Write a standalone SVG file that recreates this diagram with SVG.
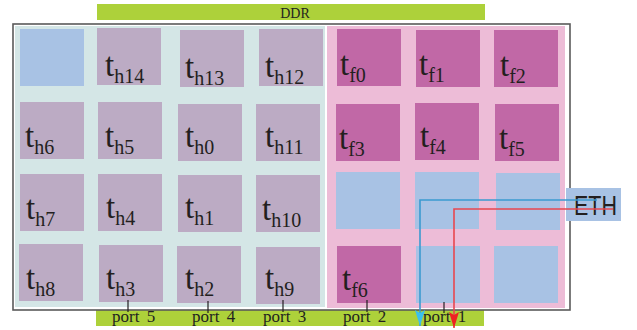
<svg xmlns="http://www.w3.org/2000/svg" width="637" height="330" viewBox="0 0 637 330">
<defs>
<style>
.bar{fill:#add13a}
.frame{fill:#ffffff;stroke:#5a5a5a;stroke-width:1.6}
.teal{fill:#d4e6e6}
.pink{fill:#edbcd7}
.th{fill:#bcabc4}
.tf{fill:#c168a6}
.bl{fill:#a8c2e4}
.lbl{font-family:"Liberation Serif","Times New Roman",serif;font-size:33px;fill:#231f20}
.sub{font-size:20px}
.port{font-family:"Liberation Serif","Times New Roman",serif;font-size:17px;fill:#231f20;word-spacing:3px}
.tick{stroke:#231f20;stroke-width:1.2}
</style>
<marker id="ab" viewBox="0 0 16 10" refX="16" refY="5" markerWidth="16" markerHeight="10" markerUnits="userSpaceOnUse" orient="auto">
<path d="M0,0 L3,5 L0,10 L16,5 Z" fill="#3bbfee"/>
</marker>
<marker id="ar" viewBox="0 0 16 10" refX="16" refY="5" markerWidth="16" markerHeight="10" markerUnits="userSpaceOnUse" orient="auto">
<path d="M0,0 L3,5 L0,10 L16,5 Z" fill="#ee2222"/>
</marker>
</defs>
<g id="ddr">
<rect class="bar" x="97" y="4" width="388" height="16"/>
<text x="295" y="18" text-anchor="middle" font-family="Liberation Serif, Times New Roman, serif" font-size="14" fill="#231f20">DDR</text>
</g>
<g id="ports-bar">
<rect class="bar" x="96" y="310" width="388" height="16"/>
</g>
<g id="chip">
<rect class="frame" x="13" y="24" width="557" height="286"/>
<rect class="teal" x="15" y="26" width="310" height="281"/>
<rect class="pink" x="327" y="26" width="238" height="282"/>
</g>
<g id="tile-blank-h"><rect class="bl" x="20" y="29" width="64" height="57"/></g>
<g id="th14"><rect class="th" x="97" y="28" width="64" height="57"/><text class="lbl" x="105" y="76">t<tspan class="sub" dy="7">h14</tspan></text></g>
<g id="th13"><rect class="th" x="180" y="30" width="64" height="57"/><text class="lbl" x="185" y="78">t<tspan class="sub" dy="7">h13</tspan></text></g>
<g id="th12"><rect class="th" x="259" y="29" width="64" height="57"/><text class="lbl" x="265" y="77">t<tspan class="sub" dy="7">h12</tspan></text></g>
<g id="th6"><rect class="th" x="20" y="102" width="64" height="57"/><text class="lbl" x="25" y="147">t<tspan class="sub" dy="7">h6</tspan></text></g>
<g id="th5"><rect class="th" x="98" y="102" width="64" height="57"/><text class="lbl" x="105" y="147">t<tspan class="sub" dy="7">h5</tspan></text></g>
<g id="th0"><rect class="th" x="178" y="104" width="64" height="57"/><text class="lbl" x="185" y="147">t<tspan class="sub" dy="7">h0</tspan></text></g>
<g id="th11"><rect class="th" x="256" y="104" width="64" height="57"/><text class="lbl" x="265" y="147">t<tspan class="sub" dy="7">h11</tspan></text></g>
<g id="th7"><rect class="th" x="20" y="174" width="64" height="57"/><text class="lbl" x="26" y="219">t<tspan class="sub" dy="7">h7</tspan></text></g>
<g id="th4"><rect class="th" x="98" y="174" width="64" height="57"/><text class="lbl" x="106" y="218">t<tspan class="sub" dy="7">h4</tspan></text></g>
<g id="th1"><rect class="th" x="178" y="175" width="64" height="57"/><text class="lbl" x="185" y="218">t<tspan class="sub" dy="7">h1</tspan></text></g>
<g id="th10"><rect class="th" x="256" y="175" width="64" height="57"/><text class="lbl" x="262" y="220">t<tspan class="sub" dy="7">h10</tspan></text></g>
<g id="th8"><rect class="th" x="19" y="244" width="64" height="57"/><text class="lbl" x="26" y="289">t<tspan class="sub" dy="7">h8</tspan></text></g>
<g id="th3"><rect class="th" x="99" y="245" width="64" height="57"/><text class="lbl" x="106" y="289">t<tspan class="sub" dy="7">h3</tspan></text></g>
<g id="th2"><rect class="th" x="177" y="246" width="64" height="57"/><text class="lbl" x="185" y="289">t<tspan class="sub" dy="7">h2</tspan></text></g>
<g id="th9"><rect class="th" x="256" y="247" width="64" height="57"/><text class="lbl" x="265" y="289">t<tspan class="sub" dy="7">h9</tspan></text></g>
<g id="tf0"><rect class="tf" x="337" y="29" width="64" height="57"/><text class="lbl" x="340" y="75">t<tspan class="sub" dy="7">f0</tspan></text></g>
<g id="tf1"><rect class="tf" x="416" y="30" width="64" height="57"/><text class="lbl" x="419" y="75">t<tspan class="sub" dy="7">f1</tspan></text></g>
<g id="tf2"><rect class="tf" x="494" y="30" width="64" height="57"/><text class="lbl" x="500" y="76">t<tspan class="sub" dy="7">f2</tspan></text></g>
<g id="tf3"><rect class="tf" x="336" y="104" width="64" height="57"/><text class="lbl" x="339" y="149">t<tspan class="sub" dy="7">f3</tspan></text></g>
<g id="tf4"><rect class="tf" x="415" y="103" width="64" height="57"/><text class="lbl" x="420" y="147">t<tspan class="sub" dy="7">f4</tspan></text></g>
<g id="tf5"><rect class="tf" x="495" y="104" width="64" height="57"/><text class="lbl" x="499" y="149">t<tspan class="sub" dy="7">f5</tspan></text></g>
<g id="tile-blank-f1"><rect class="bl" x="336" y="172" width="64" height="57"/></g>
<g id="tile-blank-f2"><rect class="bl" x="415" y="172" width="64" height="57"/></g>
<g id="tile-blank-f3"><rect class="bl" x="496" y="173" width="64" height="57"/></g>
<g id="tf6"><rect class="tf" x="337" y="246" width="64" height="57"/><text class="lbl" x="342" y="290">t<tspan class="sub" dy="7">f6</tspan></text></g>
<g id="tile-blank-f4"><rect class="bl" x="416" y="246" width="64" height="57"/></g>
<g id="tile-blank-f5"><rect class="bl" x="494" y="246" width="64" height="57"/></g>
<g id="eth">
<rect class="bl" x="566" y="188" width="55" height="33"/>
<text x="574" y="215" font-family="Liberation Sans, Arial, sans-serif" font-size="28" fill="#231f20" textLength="43" lengthAdjust="spacingAndGlyphs">ETH</text>
</g>
<g id="port-labels">
<text class="port" x="112" y="322">port 5</text>
<text class="port" x="192" y="322">port 4</text>
<text class="port" x="263" y="322">port 3</text>
<text class="port" x="343" y="322">port 2</text>
<text class="port" x="423" y="322">port 1</text>
</g>
<g id="connectors">
<line class="tick" x1="128" y1="300" x2="128" y2="312"/>
<line class="tick" x1="208" y1="301" x2="208" y2="313"/>
<line class="tick" x1="283" y1="300" x2="283" y2="312"/>
<line class="tick" x1="367" y1="300" x2="367" y2="312"/>
<line class="tick" x1="444" y1="302" x2="444" y2="313"/>
<polyline points="597,200 420,200 420,326" fill="none" stroke="#3a9ad0" stroke-width="1.6" marker-end="url(#ab)"/>
<polyline points="613,209 454,209 454,328" fill="none" stroke="#e8474f" stroke-width="1.6" marker-end="url(#ar)"/>
</g>
</svg>
